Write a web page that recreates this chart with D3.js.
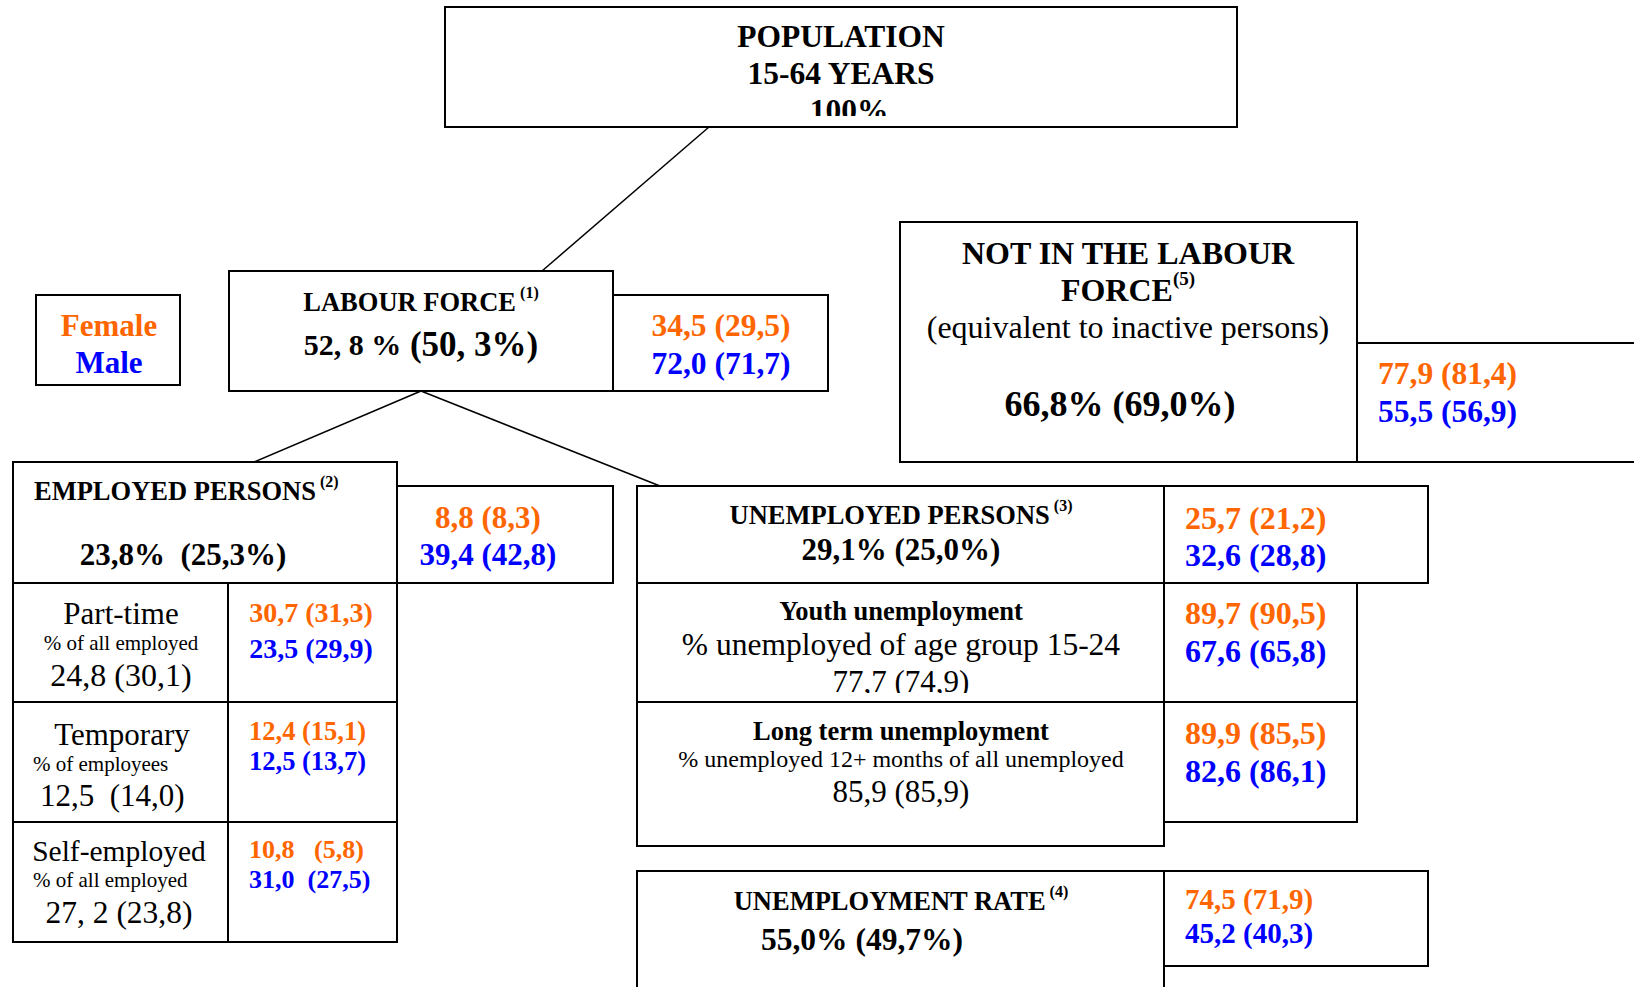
<!DOCTYPE html>
<html>
<head>
<meta charset="utf-8">
<script src="https://cdn.jsdelivr.net/npm/d3@7"></script>
<style>
  html, body { margin: 0; padding: 0; background: #fff; }
  svg { display: block; }
  text { font-family: "Liberation Serif", "Times New Roman", serif; white-space: pre; }
</style>
</head>
<body>
<svg id="chart" width="1634" height="987"></svg>
<script>
// ---------------- DATA ----------------
const nodeIds = ["population", "labourForce", "notInLabourForce", "employed", "unemployed",
                 "partTime", "temporary", "selfEmployed", "youthUnemp", "longTermUnemp", "unemploymentRate"];
const titles = ["POPULATION|15-64 YEARS", "LABOUR FORCE", "NOT IN THE LABOUR|FORCE", "EMPLOYED PERSONS",
                "UNEMPLOYED PERSONS", "Part-time", "Temporary", "Self-employed",
                "Youth unemployment", "Long term unemployment", "UNEMPLOYMENT RATE"];
const footnotes = [null, "(1)", "(5)", "(2)", "(3)", null, null, null, null, null, "(4)"];
const subtitles = [null, null, "(equivalent to inactive persons)", null, null,
                   "% of all employed", "% of employees", "% of all employed",
                   "% unemployed of age group 15-24", "% unemployed 12+ months of all unemployed", null];
const totalCurrent  = ["100%", "52, 8 %", "66,8%", "23,8%", "29,1%", "24,8", "12,5", "27, 2", "77,7", "85,9", "55,0%"];
const totalPrevious = [null, "(50, 3%)", "(69,0%)", "(25,3%)", "(25,0%)", "(30,1)", "(14,0)", "(23,8)", "(74,9)", "(85,9)", "(49,7%)"];
const totalSep      = ["", " ", " ", "  ", " ", " ", "  ", " ", " ", " ", " "];
const femaleValues  = [null, "34,5 (29,5)", "77,9 (81,4)", "8,8 (8,3)", "25,7 (21,2)", "30,7 (31,3)",
                       "12,4 (15,1)", "10,8   (5,8)", "89,7 (90,5)", "89,9 (85,5)", "74,5 (71,9)"];
const maleValues    = [null, "72,0 (71,7)", "55,5 (56,9)", "39,4 (42,8)", "32,6 (28,8)", "23,5 (29,9)",
                       "12,5 (13,7)", "31,0  (27,5)", "67,6 (65,8)", "82,6 (86,1)", "45,2 (40,3)"];
const legendLabels  = ["Female", "Male"];
const links = [["population", "labourForce"], ["labourForce", "employed"], ["labourForce", "unemployed"]];

// ---------------- LAYOUT / STYLE ----------------
const FEMALE = "#ff6600", MALE = "#0000ff", INK = "#000";
const layout = {
  population:       {box: [445, 7, 1237, 127], cx: 841, title: {ys: [36, 73], fs: 31.5, w: "bold"}, total: {y: 110, fs: 31.5, w: "bold", x: 849}, clipBottom: 116,
                     linkBottom: [709, 127]},
  labourForce:      {box: [229, 271, 613, 391], cx: 421, title: {ys: [302], fs: 26.5, w: "bold"}, total: {y: 344, fs: 30, fs2: 35, w: "bold"},
                     side: {box: [613, 295, 828, 391], x: 721, anchor: "middle", ys: [325, 363], fs: 31.5}, linkTop: [542, 271], linkBottom: [421, 391]},
  notInLabourForce: {box: [900, 222, 1357, 462], cx: 1128, title: {ys: [253, 290], fs: 32, w: "bold"}, sub: {y: 327, fs: 32, w: "normal"},
                     total: {y: 404, fs: 36, w: "bold", x: 1120},
                     side: {box: [1357, 343, 1670, 462], x: 1378, anchor: "start", ys: [373, 411], fs: 31.5}},
  employed:         {box: [13, 462, 397, 583], cx: 183, title: {ys: [491], fs: 26.5, w: "bold", x: 34, anchor: "start"}, total: {y: 554, fs: 31, w: "bold"},
                     side: {box: [397, 486, 613, 583], x: 488, anchor: "middle", ys: [517, 554], fs: 31}, linkTop: [254, 462]},
  unemployed:       {box: [637, 486, 1164, 583], cx: 901, title: {ys: [515], fs: 26.5, w: "bold"}, total: {y: 549, fs: 31, w: "bold"},
                     side: {box: [1164, 486, 1428, 583], x: 1185, anchor: "start", ys: [518, 555], fs: 32}, linkTop: [660, 486]},
  partTime:         {box: [13, 583, 228, 702], cx: 121, title: {ys: [613], fs: 31, w: "normal"}, sub: {y: 643, fs: 21, w: "normal"}, total: {y: 675, fs: 32, w: "normal"},
                     side: {box: [228, 583, 397, 702], x: 311, anchor: "middle", ys: [612, 648], fs: 28}},
  temporary:        {box: [13, 702, 228, 822], cx: 122, title: {ys: [734], fs: 31, w: "normal"}, sub: {y: 764, fs: 21, w: "normal", x: 33, anchor: "start"},
                     total: {y: 795, fs: 31, w: "normal", x: 40, anchor: "start"},
                     side: {box: [228, 702, 397, 822], x: 249, anchor: "start", ys: [731, 761], fs: 26.5}},
  selfEmployed:     {box: [13, 822, 228, 942], cx: 119, title: {ys: [851], fs: 29.5, w: "normal"}, sub: {y: 880, fs: 21, w: "normal", x: 33, anchor: "start"},
                     total: {y: 912, fs: 31.5, w: "normal"},
                     side: {box: [228, 822, 397, 942], x: 249, anchor: "start", ys: [849, 879], fs: 26}},
  youthUnemp:       {box: [637, 583, 1164, 702], cx: 901, title: {ys: [611], fs: 26.5, w: "bold"}, sub: {y: 644, fs: 31.5, w: "normal"}, total: {y: 681, fs: 31, w: "normal"}, clipBottom: 693,
                     side: {box: [1164, 583, 1357, 702], x: 1185, anchor: "start", ys: [613, 651], fs: 32}},
  longTermUnemp:    {box: [637, 702, 1164, 846], cx: 901, title: {ys: [731], fs: 26.5, w: "bold"}, sub: {y: 759, fs: 24, w: "normal"}, total: {y: 791, fs: 31, w: "normal"},
                     side: {box: [1164, 702, 1357, 822], x: 1185, anchor: "start", ys: [733, 771], fs: 32}},
  unemploymentRate: {box: [637, 871, 1164, 1010], cx: 901, title: {ys: [901], fs: 26.5, w: "bold"}, total: {y: 939, fs: 31.5, w: "bold", x: 862},
                     side: {box: [1164, 871, 1428, 966], x: 1185, anchor: "start", ys: [899, 933], fs: 29}}
};
const legendLayout = {box: [36, 295, 180, 385], cx: 109, ys: [325, 362], fs: 31};

// ---------------- DRAW ----------------
const svg = d3.select("#chart");
const defs = svg.append("defs");
const gLinks = svg.append("g");
const gBoxes = svg.append("g");

function rect(g, b) {
  g.append("rect").attr("x", b[0]).attr("y", b[1]).attr("width", b[2] - b[0]).attr("height", b[3] - b[1])
    .attr("fill", "none").attr("stroke", INK).attr("stroke-width", 2);
}
function text(g, x, y, anchor, fs, weight, fill) {
  return g.append("text").attr("x", x).attr("y", y).attr("text-anchor", anchor)
    .attr("dominant-baseline", "central").attr("font-size", fs).attr("font-weight", weight).attr("fill", fill);
}

// connector lines
links.forEach(([a, b]) => {
  const src = layout[a].linkBottom;
  const dst = layout[b].linkTop;
  gLinks.append("path").attr("d", d3.line()([src, dst])).attr("stroke", INK).attr("stroke-width", 1.5).attr("fill", "none");
});

nodeIds.forEach((id, i) => {
  const L = layout[id];
  const g = gBoxes.append("g").attr("class", "node-" + id);
  rect(g, L.box);
  let tg = g;
  if (L.clipBottom) {
    defs.append("clipPath").attr("id", "clip-" + id).append("rect")
      .attr("x", L.box[0]).attr("y", L.box[1]).attr("width", L.box[2] - L.box[0]).attr("height", L.clipBottom - L.box[1]);
    tg = g.append("g").attr("clip-path", `url(#clip-${id})`);
  }
  // title lines
  const tlines = titles[i].split("|");
  tlines.forEach((line, k) => {
    const t = text(tg, L.title.x || L.cx, L.title.ys[k], L.title.anchor || "middle", L.title.fs, L.title.w, INK);
    t.append("tspan").text(line);
    if (k === tlines.length - 1 && footnotes[i]) {
      const attached = id === "notInLabourForce";
      t.append("tspan").attr("font-size", Math.round(L.title.fs * 0.6)).attr("dy", -L.title.fs * 0.38)
        .text((attached ? "" : " ") + footnotes[i]);
    }
  });
  if (subtitles[i] && L.sub) {
    text(tg, L.sub.x || L.cx, L.sub.y, L.sub.anchor || "middle", L.sub.fs, L.sub.w, INK).text(subtitles[i]);
  }
  const T = L.total;
  const tt = text(tg, T.x || L.cx, T.y, T.anchor || "middle", T.fs, T.w, INK);
  tt.append("tspan").text(totalCurrent[i]);
  if (totalPrevious[i]) {
    tt.append("tspan").attr("font-size", T.fs2 || T.fs).text(totalSep[i] + totalPrevious[i]);
  }
  // side box with female / male values
  if (L.side && femaleValues[i]) {
    const S = L.side;
    rect(g, S.box);
    text(g, S.x, S.ys[0], S.anchor, S.fs, "bold", FEMALE).text(femaleValues[i]);
    text(g, S.x, S.ys[1], S.anchor, S.fs, "bold", MALE).text(maleValues[i]);
  }
});

// legend
const gl = svg.append("g");
rect(gl, legendLayout.box);
legendLabels.forEach((lab, k) => {
  text(gl, legendLayout.cx, legendLayout.ys[k], "middle", legendLayout.fs, "bold", k === 0 ? FEMALE : MALE).text(lab);
});
</script>
</body>
</html>
